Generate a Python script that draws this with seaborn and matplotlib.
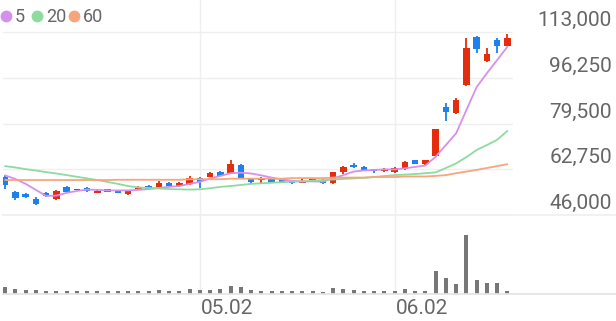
import numpy as np
import pandas as pd
import matplotlib
matplotlib.use("Agg")
import matplotlib.pyplot as plt
from matplotlib import transforms
import seaborn as sns

# ---------------- data ----------------
opens = [59900, 54400, 53700, 51900, 54100, 51900, 56300, 55300, 55900, 54200,
         55500, 55200, 53700, 55500, 56700, 56400, 57700, 56600, 57400, 59500,
         60000, 61900, 61400, 64300, 59500, 58800, 59200, 58800, 58200, 57800,
         58200, 58800, 57700, 61600, 64300, 63700, 62800, 62100, 61700, 62700,
         66100, 64600, 67600, 85700, 83200, 93600, 111300, 102500, 110100, 108000]
closes = [57000, 52200, 52600, 50000, 53000, 54800, 54400, 55500, 54800, 54900,
          54400, 54100, 54900, 56000, 55600, 57700, 56600, 57700, 59500, 58100,
          61500, 60400, 64700, 59700, 58200, 59500, 58100, 58200, 57700, 58600,
          59200, 57700, 61700, 63700, 63700, 62200, 62200, 62800, 63200, 65500,
          64700, 66100, 77400, 83800, 88100, 107000, 106800, 104800, 108000, 110700]
highs = [60650, 54800, 54100, 52600, 54400, 55200, 56600, 55700, 56100, 55100,
         55700, 55300, 55100, 56600, 56900, 58500, 57900, 57900, 60400, 59800,
         61700, 62100, 66100, 64500, 59700, 60000, 59400, 59400, 58400, 59000,
         59400, 59000, 61900, 63900, 64900, 63900, 63000, 63100, 63400, 65800,
         66300, 66300, 77600, 87000, 88800, 110700, 111600, 107000, 110700, 112300]
lows = [55500, 51500, 52200, 49700, 52600, 51500, 54100, 55200, 54600, 53900,
        54300, 53900, 53500, 55300, 55400, 56200, 56400, 56400, 57100, 56000,
        59800, 60200, 61100, 59500, 57400, 57700, 57900, 58000, 57400, 57700,
        58000, 57500, 57400, 61000, 63100, 62000, 61400, 61900, 61500, 62500,
        64500, 64400, 67300, 80500, 82900, 93300, 105200, 101900, 105200, 107700]
ma5 = [60500, 59200, 57400, 55200, 53000, 53100, 54100, 54800, 55300, 55200,
       55000, 55000, 55000, 55200, 55500, 55900, 56300, 56600, 57400, 58100,
       59400, 60300, 61300, 61500, 61200, 60500, 59700, 59000, 58500, 58300,
       58300, 58200, 59400, 60600, 61900, 62300, 62500, 62700, 62700, 63100,
       63600, 64100, 67300, 71600, 75900, 84400, 92800, 97900, 102700, 107600]
ma20 = [63900, 63400, 62800, 62300, 61700, 61200, 60600, 60000, 59400, 58800,
        58100, 57400, 56600, 56100, 55900, 55700, 55500, 55400, 55300, 55400,
        55800, 56300, 56600, 57000, 57400, 57600, 57800, 58000, 58200, 58300,
        58600, 58800, 59000, 59200, 59400, 59600, 59900, 60300, 60600, 60800,
        61000, 61300, 61600, 63200, 64900, 67200, 69800, 71600, 73500, 76800]
ma60 = [58800, 58800, 58800, 58800, 58800, 58800, 58800, 58800, 58800, 58800,
        58800, 58900, 58900, 58900, 58900, 58900, 58900, 58900, 59100, 59100,
        59100, 59100, 59300, 59300, 59300, 59300, 59300, 59300, 59500, 59500,
        59500, 59500, 59700, 59700, 59700, 59700, 59900, 59900, 59900, 60100,
        60100, 60100, 60300, 60600, 61300, 61900, 62500, 63200, 63900, 64600]
volume = [22, 15, 11, 11, 10, 10, 9, 8, 8, 8, 8, 8, 8, 9, 9, 11, 10, 8, 16, 11,
          11, 14, 23, 21, 12, 9, 8, 8, 8, 8, 8, 7, 18, 14, 11, 10, 9, 9, 8, 14,
          10, 9, 69, 46, 30, 175, 42, 32, 34, 8]
price_ticks = [46000, 62750, 79500, 96250, 113000]
date_tick_pos = [19, 38]
date_tick_labels = ["05.02", "06.02"]
ma_names = ["5", "20", "60"]

# ---------------- style ----------------
RED = "#e52d0d"
BLUE = "#1c80ee"
MA_COLORS = ["#d590ee", "#8ddb9e", "#f7a57c"]
GRID = "#efefef"
TXT = "#666666"

sns.set_theme(style="white")
plt.rcParams["font.family"] = ["Roboto", "DejaVu Sans"]

W, H = 616, 321
fig = plt.figure(figsize=(W / 100, H / 100), dpi=100)
fig.patch.set_facecolor("white")


def px_axes(l, t, r, b):
    return fig.add_axes([l / W, 1 - b / H, (r - l) / W, (b - t) / H])


STEP = 10.25
X0 = 5.1
ax = px_axes(3, 0, 513, 215)
axv = px_axes(3, 215, 616, 294)

n = len(opens)
df = pd.DataFrame({"i": np.arange(n), "open": opens, "close": closes,
                   "high": highs, "low": lows, "ma5": ma5, "ma20": ma20,
                   "ma60": ma60, "vol": volume})
up = df["close"] >= df["open"]
cols = np.where(up, RED, BLUE)

# price pane
ax.set_xlim((3 - X0) / STEP, (513 - X0) / STEP)
ytop = 113000 + 32 * (113000 - 46000) / (215 - 32)
ax.set_ylim(46000, ytop)
ax.set_yticks(price_ticks)
ax.yaxis.grid(True, color=GRID, linewidth=1)
ax.set_xticks([])
ax.tick_params(left=False, labelleft=False, bottom=False)
for s in ax.spines.values():
    s.set_visible(False)
for xp in date_tick_pos:
    ax.axvline(xp, color=GRID, linewidth=1, zorder=0)

ax.vlines(df["i"], df["low"], df["high"], colors=cols, linewidth=1.3, zorder=2)
body_h = np.maximum((df["close"] - df["open"]).abs(), 250)
body_b = np.minimum(df["open"], df["close"])
ax.bar(df["i"], body_h, bottom=body_b, width=0.62, color=cols, linewidth=0, zorder=3)

for name, c in zip(["ma5", "ma20", "ma60"], MA_COLORS):
    sns.lineplot(data=df, x="i", y=name, ax=ax, color=c, linewidth=1.3, zorder=4)
ax.set_xlabel("")
ax.set_ylabel("")

# price labels
trans = transforms.blended_transform_factory(fig.transFigure, ax.transData)
trans = transforms.offset_copy(trans, fig=fig, x=0, y=6, units="dots")
for t in price_ticks:
    ax.text(612 / W, t, f"{t:,}", transform=trans, ha="right", va="baseline",
            fontsize=15, color=TXT, clip_on=False)

# volume pane
sns.barplot(data=df, x="i", y="vol", ax=axv, native_scale=True, width=0.38,
            color="#777777", errorbar=None, saturation=1, linewidth=0)
axv.set_xlim((3 - X0) / STEP, (616 - X0) / STEP)
axv.set_ylim(0, max(volume) * 79 / 59)
axv.set_xlabel("")
axv.set_ylabel("")
axv.set_yticks([])
axv.set_xticks([])
axv.tick_params(bottom=False, left=False)
for xp in date_tick_pos:
    axv.axvline(xp, color=GRID, linewidth=1, zorder=0)
for k in ["left", "right"]:
    axv.spines[k].set_visible(False)
axv.spines["top"].set_color(GRID)
axv.spines["bottom"].set_color("#e4e4e4")

# date labels (left-aligned at the grid line, below the volume pane)
dtrans = transforms.blended_transform_factory(axv.transData, axv.transAxes)
dtrans = transforms.offset_copy(dtrans, fig=fig, x=1, y=-20, units="dots")
for xp, lab in zip(date_tick_pos, date_tick_labels):
    axv.text(xp, 0, lab, transform=dtrans, ha="left", va="baseline",
             fontsize=15, color=TXT, clip_on=False)

# legend (top-left)
lax = fig.add_axes([0, 0, 1, 1])
lax.set_xlim(0, W)
lax.set_ylim(H, 0)
lax.axis("off")
lax.patch.set_alpha(0)
for cx, tx, name, c in zip([6, 37, 74], [15, 46, 83], ma_names, MA_COLORS):
    lax.plot([cx], [16], marker="o", markersize=7.5, color=c, linestyle="")
    lax.text(tx, 16.5, name, fontsize=13, color=TXT, va="center", ha="left")

fig.savefig("out.png", dpi=100, facecolor="white")
